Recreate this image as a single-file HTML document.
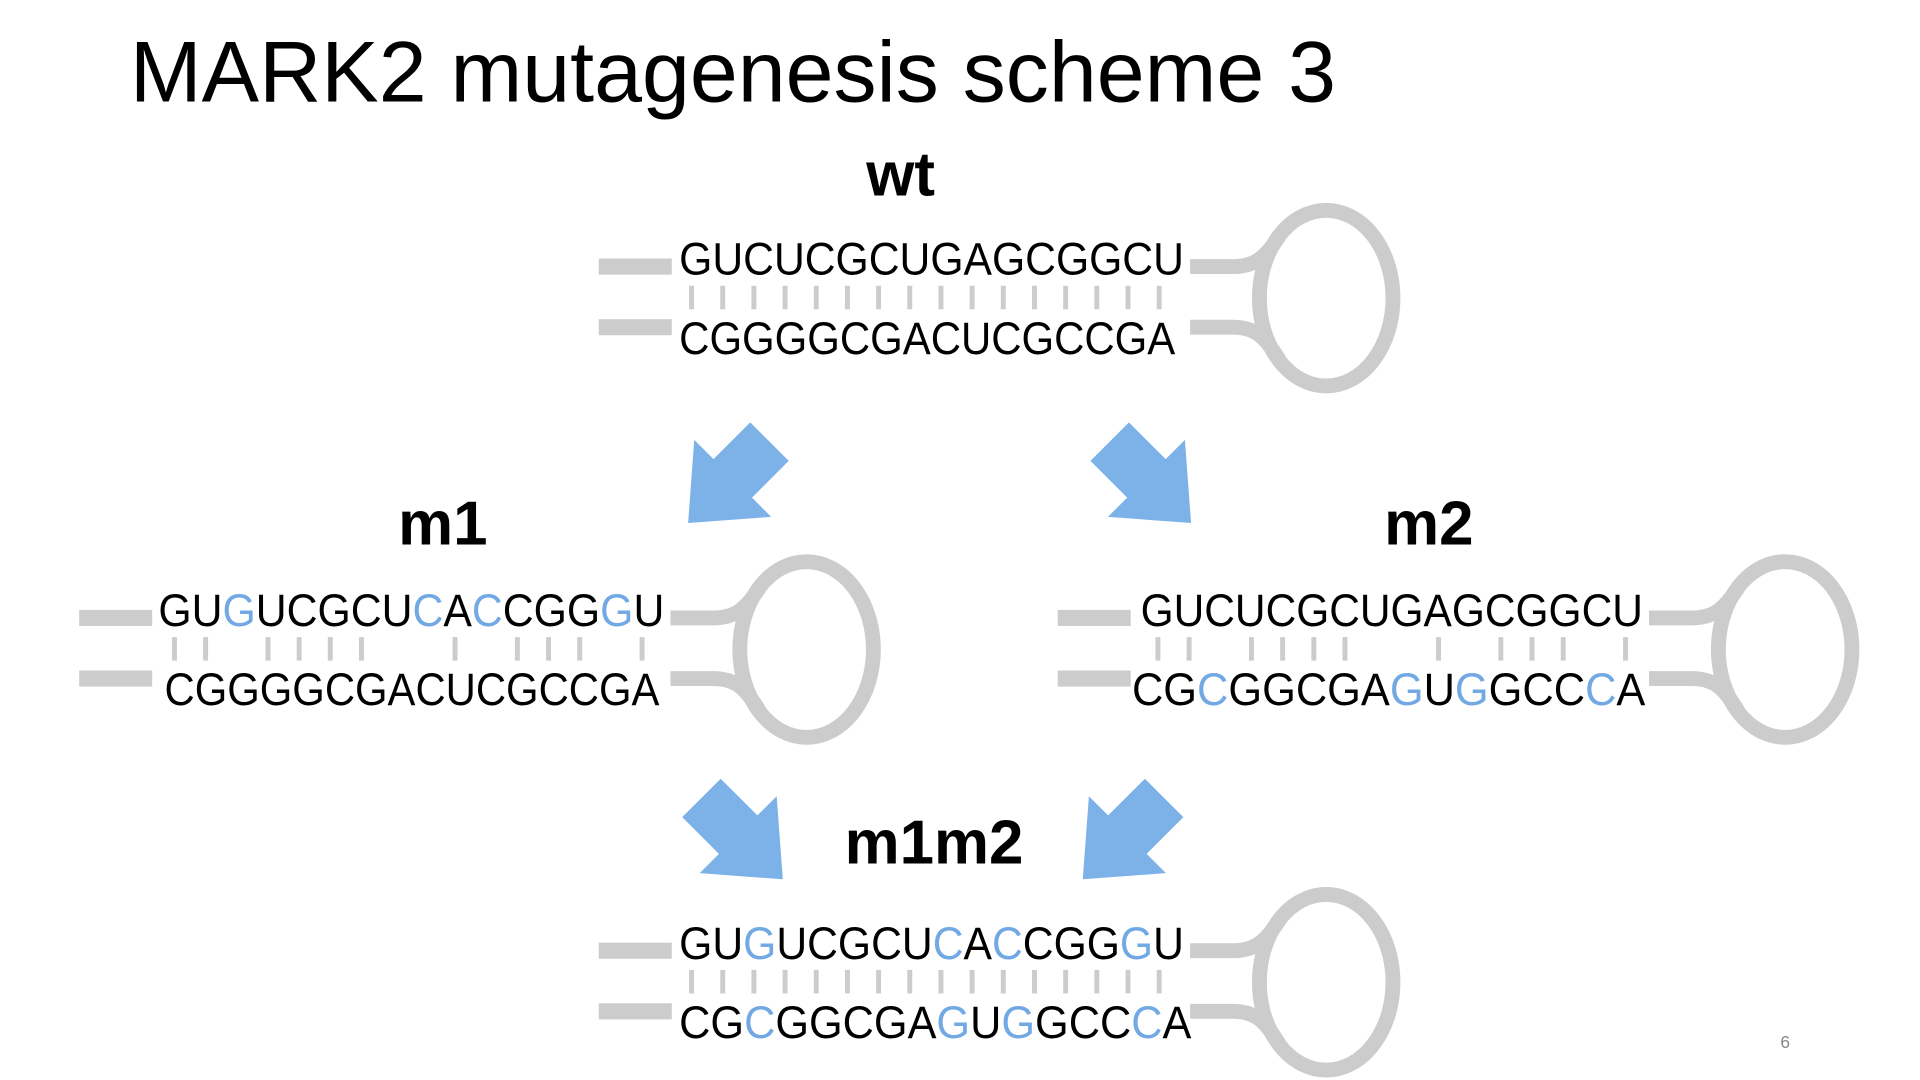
<!DOCTYPE html>
<html><head><meta charset="utf-8"><style>
html,body{margin:0;padding:0;background:#fff;width:1920px;height:1080px;overflow:hidden}
svg{display:block}
text{font-family:"Liberation Sans",sans-serif}
.s{font-size:37px;fill:#000}
.b{fill:#72a9e4}
.lb{font-size:50px;font-weight:bold;fill:#000}
</style></head><body>
<svg width="1920" height="1080" viewBox="0 0 1552 873" xmlns="http://www.w3.org/2000/svg">
<defs>
<g id="frame" fill="none" stroke="#cccccc" stroke-width="12">
<rect x="0" y="0" width="59" height="13" fill="#cccccc" stroke="none"/>
<rect x="0" y="49" width="59" height="13" fill="#cccccc" stroke="none"/>
<path d="M478,6.5 H512 C530,6.5 538,0 550,-18"/>
<path d="M478,55.5 H512 C530,55.5 538,62 550,82"/>
<ellipse cx="588" cy="32" rx="54" ry="71"/>
</g>
<polygon id="arr" fill="#7cb2e8" points="0,-22 42,-22 42,-44 93,0 42,44 42,22 0,22"/>
</defs>

<text x="105" y="82" font-size="70" textLength="975" lengthAdjust="spacingAndGlyphs">MARK2 mutagenesis scheme 3</text>
<text x="1443" y="847" font-size="14" fill="#888" text-anchor="middle">6</text>

<text class="lb" x="728" y="158" text-anchor="middle">wt</text>
<text class="lb" x="358" y="440" text-anchor="middle">m1</text>
<text class="lb" x="1155" y="440" text-anchor="middle">m2</text>
<text class="lb" x="755" y="698" text-anchor="middle">m1m2</text>

<use href="#arr" transform="translate(622,357) rotate(135)"/>
<use href="#arr" transform="translate(897,357) rotate(45)"/>
<use href="#arr" transform="translate(567,645) rotate(45)"/>
<use href="#arr" transform="translate(941,645) rotate(135)"/>

<!-- wt -->
<g transform="translate(484,209)">
<use href="#frame"/>
<g fill="#cccccc">
<rect x="73" y="22" width="4" height="19"/><rect x="98.2" y="22" width="4" height="19"/><rect x="123.4" y="22" width="4" height="19"/><rect x="148.6" y="22" width="4" height="19"/><rect x="173.8" y="22" width="4" height="19"/><rect x="199" y="22" width="4" height="19"/><rect x="224.2" y="22" width="4" height="19"/><rect x="249.4" y="22" width="4" height="19"/><rect x="274.6" y="22" width="4" height="19"/><rect x="299.8" y="22" width="4" height="19"/><rect x="325" y="22" width="4" height="19"/><rect x="350.2" y="22" width="4" height="19"/><rect x="375.4" y="22" width="4" height="19"/><rect x="400.6" y="22" width="4" height="19"/><rect x="425.8" y="22" width="4" height="19"/><rect x="451" y="22" width="4" height="19"/>
</g>
<text class="s" x="65" y="13" textLength="408" lengthAdjust="spacingAndGlyphs">GUCUCGCUGAGCGGCU</text>
<text class="s" x="65" y="77" textLength="401" lengthAdjust="spacingAndGlyphs">CGGGGCGACUCGCCGA</text>
</g>

<!-- m1 -->
<g transform="translate(64,493)">
<use href="#frame"/>
<g fill="#cccccc">
<rect x="75" y="22" width="4" height="19"/><rect x="100.2" y="22" width="4" height="19"/><rect x="150.6" y="22" width="4" height="19"/><rect x="175.8" y="22" width="4" height="19"/><rect x="201" y="22" width="4" height="19"/><rect x="226.2" y="22" width="4" height="19"/><rect x="301.8" y="22" width="4" height="19"/><rect x="352.2" y="22" width="4" height="19"/><rect x="377.4" y="22" width="4" height="19"/><rect x="402.6" y="22" width="4" height="19"/><rect x="453" y="22" width="4" height="19"/>
</g>
<text class="s" x="64" y="13" textLength="409" lengthAdjust="spacingAndGlyphs">GU<tspan class="b">G</tspan>UCGCU<tspan class="b">C</tspan>A<tspan class="b">C</tspan>CGG<tspan class="b">G</tspan>U</text>
<text class="s" x="69" y="77" textLength="400" lengthAdjust="spacingAndGlyphs">CGGGGCGACUCGCCGA</text>
</g>

<!-- m2 -->
<g transform="translate(855,493)">
<use href="#frame"/>
<g fill="#cccccc">
<rect x="79" y="22" width="4" height="19"/><rect x="104.2" y="22" width="4" height="19"/><rect x="154.6" y="22" width="4" height="19"/><rect x="179.8" y="22" width="4" height="19"/><rect x="205" y="22" width="4" height="19"/><rect x="230.2" y="22" width="4" height="19"/><rect x="305.8" y="22" width="4" height="19"/><rect x="356.2" y="22" width="4" height="19"/><rect x="381.4" y="22" width="4" height="19"/><rect x="406.6" y="22" width="4" height="19"/><rect x="457" y="22" width="4" height="19"/>
</g>
<text class="s" x="67" y="13" textLength="406" lengthAdjust="spacingAndGlyphs">GUCUCGCUGAGCGGCU</text>
<text class="s" x="60" y="77" textLength="415" lengthAdjust="spacingAndGlyphs">CG<tspan class="b">C</tspan>GGCGA<tspan class="b">G</tspan>U<tspan class="b">G</tspan>GCC<tspan class="b">C</tspan>A</text>
</g>

<!-- m1m2 -->
<g transform="translate(484,762)">
<use href="#frame"/>
<g fill="#cccccc">
<rect x="73" y="22" width="4" height="19"/><rect x="98.2" y="22" width="4" height="19"/><rect x="123.4" y="22" width="4" height="19"/><rect x="148.6" y="22" width="4" height="19"/><rect x="173.8" y="22" width="4" height="19"/><rect x="199" y="22" width="4" height="19"/><rect x="224.2" y="22" width="4" height="19"/><rect x="249.4" y="22" width="4" height="19"/><rect x="274.6" y="22" width="4" height="19"/><rect x="299.8" y="22" width="4" height="19"/><rect x="325" y="22" width="4" height="19"/><rect x="350.2" y="22" width="4" height="19"/><rect x="375.4" y="22" width="4" height="19"/><rect x="400.6" y="22" width="4" height="19"/><rect x="425.8" y="22" width="4" height="19"/><rect x="451" y="22" width="4" height="19"/>
</g>
<text class="s" x="65" y="13" textLength="408" lengthAdjust="spacingAndGlyphs">GU<tspan class="b">G</tspan>UCGCU<tspan class="b">C</tspan>A<tspan class="b">C</tspan>CGG<tspan class="b">G</tspan>U</text>
<text class="s" x="65" y="77" textLength="414" lengthAdjust="spacingAndGlyphs">CG<tspan class="b">C</tspan>GGCGA<tspan class="b">G</tspan>U<tspan class="b">G</tspan>GCC<tspan class="b">C</tspan>A</text>
</g>
</svg>
</body></html>
